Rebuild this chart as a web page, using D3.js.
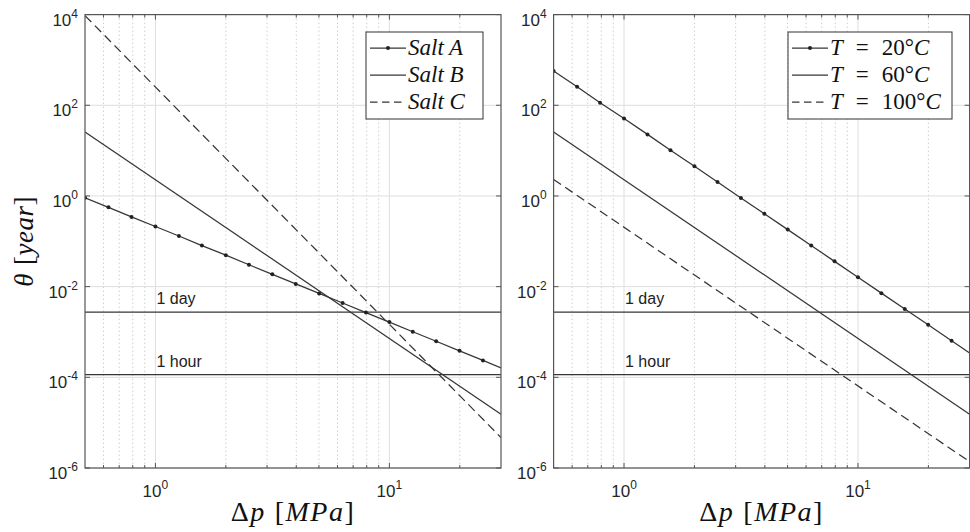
<!DOCTYPE html>
<html>
<head>
<meta charset="utf-8">
<script src="https://cdn.jsdelivr.net/npm/d3@7"></script>
<style>
  html, body { margin: 0; padding: 0; background: #fff; }
  svg { display: block; }
</style>
</head>
<body>
<svg id="chart" width="970" height="532"></svg>
<script>
// Pressure drop Δp [MPa]: tenth-of-a-decade steps from 0.5 MPa, closed at 30 MPa
const pressureSteps = [0.5, 0.63, 0.79, 1.0, 1.26, 1.58, 2.0, 2.51, 3.16, 3.98, 5.01, 6.31, 7.94, 10.0, 12.59, 15.85, 19.95, 25.12, 30];
const pressureEnds = [0.5, 30];

// Time θ [year] for each salt
const saltA = [0.912, 0.561, 0.345, 0.212, 0.131, 0.0804, 0.0494, 0.0304, 0.0187, 0.0115, 0.00708, 0.00436, 0.00268, 0.00165, 0.00101, 0.000624, 0.000384, 0.000236, 0.000161];
const saltB = [25.7, 1.54e-5];
const saltC = [9500, 4.7e-6];

// Time θ [year] for each temperature
const temp20 = [571, 255, 114, 50.9, 22.8, 10.2, 4.54, 2.03, 0.906, 0.405, 0.181, 0.0807, 0.0361, 0.0161, 0.00719, 0.00321, 0.00144, 0.000641, 0.000342];
const temp60 = [25.7, 1.54e-5];
const temp100 = [2.31, 1.38e-6];

// Axis ticks
const xDomain = [0.5, 30];
const yDomain = [1e-6, 1e4];
const xTickExponents = [0, 1];
const xMinorTicks = [0.6, 0.7, 0.8, 0.9, 2, 3, 4, 5, 6, 7, 8, 9, 20];
const yTickExponents = [4, 2, 0, -2, -4, -6];

// Reference durations, in years
const thresholdLabels = ["1 day", "1 hour"];
const thresholdValues = [1 / 365, 1 / 8760];

// Legend entries: pieces of each label, italic (math variable) or upright
const saltLegend = [
  [{ t: "Salt A", it: true }],
  [{ t: "Salt B", it: true }],
  [{ t: "Salt C", it: true }]
];
const tempLegend = [
  [{ t: "T", it: true }, { t: "=", dx: 13 }, { t: "20°", dx: 13 }, { t: "C", it: true }],
  [{ t: "T", it: true }, { t: "=", dx: 13 }, { t: "60°", dx: 13 }, { t: "C", it: true }],
  [{ t: "T", it: true }, { t: "=", dx: 13 }, { t: "100°", dx: 13 }, { t: "C", it: true }]
];

const svg = d3.select("#chart");
const INK = "#363636";
const AXIS = "#555";
const SANS = '"Liberation Sans", Arial, Helvetica, sans-serif';
const SERIF = '"Liberation Serif", "Times New Roman", serif';

const plotTop = 14.6, plotBottom = 468;

const panels = [
  {
    x0: 85, x1: 501, yLabel: true,
    series: [
      { x: pressureSteps, y: saltA, dash: null, dots: true },
      { x: pressureEnds, y: saltB, dash: null, dots: false },
      { x: pressureEnds, y: saltC, dash: "9,5", dots: false }
    ],
    legend: { x: 366, y: 32, w: 117, h: 87, labels: saltLegend }
  },
  {
    x0: 553.6, x1: 969.6, yLabel: false,
    series: [
      { x: pressureSteps, y: temp20, dash: null, dots: true },
      { x: pressureEnds, y: temp60, dash: null, dots: false },
      { x: pressureEnds, y: temp100, dash: "9,5", dots: false }
    ],
    legend: { x: 788, y: 32, w: 164, h: 87, labels: tempLegend }
  }
];

panels.forEach((p, pi) => {
  const x = d3.scaleLog().domain(xDomain).range([p.x0, p.x1]);
  const y = d3.scaleLog().domain(yDomain).range([plotBottom, plotTop]);
  const g = svg.append("g");

  const clipId = "clip" + pi;
  svg.append("clipPath").attr("id", clipId)
    .append("rect").attr("x", p.x0).attr("y", plotTop).attr("width", p.x1 - p.x0).attr("height", plotBottom - plotTop);

  // minor vertical grid (dotted)
  g.selectAll(".xminor").data(xMinorTicks).join("line")
    .attr("x1", d => x(d)).attr("x2", d => x(d))
    .attr("y1", plotTop).attr("y2", plotBottom)
    .attr("stroke", "#cfcfcf").attr("stroke-width", 1).attr("stroke-dasharray", "1.5,2.5");

  // major vertical grid
  g.selectAll(".xmajor").data(xTickExponents).join("line")
    .attr("x1", d => x(Math.pow(10, d))).attr("x2", d => x(Math.pow(10, d)))
    .attr("y1", plotTop).attr("y2", plotBottom)
    .attr("stroke", "#dedede").attr("stroke-width", 1);

  // major horizontal grid
  g.selectAll(".ymajor").data(yTickExponents).join("line")
    .attr("x1", p.x0).attr("x2", p.x1)
    .attr("y1", d => y(Math.pow(10, d))).attr("y2", d => y(Math.pow(10, d)))
    .attr("stroke", "#dedede").attr("stroke-width", 1);

  // reference durations
  thresholdValues.forEach((v, i) => {
    g.append("line")
      .attr("x1", p.x0).attr("x2", p.x1)
      .attr("y1", y(v)).attr("y2", y(v))
      .attr("stroke", INK).attr("stroke-width", 1.2);
    g.append("text")
      .attr("x", x(1) + 1).attr("y", y(v) - 8)
      .attr("font-family", SANS).attr("font-size", 16).attr("fill", "#222")
      .text(thresholdLabels[i]);
  });

  // data lines
  const line = d3.line().x(d => x(d[0])).y(d => y(d[1]));
  const data = g.append("g").attr("clip-path", `url(#${clipId})`);
  p.series.forEach(s => {
    const pts = s.x.map((v, i) => [v, s.y[i]]);
    data.append("path")
      .attr("d", line(pts))
      .attr("fill", "none")
      .attr("stroke", INK).attr("stroke-width", 1.25)
      .attr("stroke-dasharray", s.dash);
    if (s.dots) {
      data.selectAll(null).data(pts.slice(0, -1)).join("circle")
        .attr("cx", d => x(d[0])).attr("cy", d => y(d[1]))
        .attr("r", 2).attr("fill", "#222");
    }
  });

  // axes box
  g.append("rect")
    .attr("x", p.x0).attr("y", plotTop).attr("width", p.x1 - p.x0).attr("height", plotBottom - plotTop)
    .attr("fill", "none").attr("stroke", AXIS).attr("stroke-width", 1.2);

  // ticks, pointing inward on all four sides
  const majorX = xTickExponents.map(e => Math.pow(10, e));
  [[majorX, 5], [xMinorTicks, 3]].forEach(([vals, len]) => {
    vals.forEach(v => {
      g.append("line").attr("x1", x(v)).attr("x2", x(v)).attr("y1", plotBottom).attr("y2", plotBottom - len)
        .attr("stroke", AXIS);
      g.append("line").attr("x1", x(v)).attr("x2", x(v)).attr("y1", plotTop).attr("y2", plotTop + len)
        .attr("stroke", AXIS);
    });
  });
  yTickExponents.forEach(e => {
    const yy = y(Math.pow(10, e));
    g.append("line").attr("x1", p.x0).attr("x2", p.x0 + 5).attr("y1", yy).attr("y2", yy).attr("stroke", AXIS);
    g.append("line").attr("x1", p.x1).attr("x2", p.x1 - 5).attr("y1", yy).attr("y2", yy).attr("stroke", AXIS);
  });

  // tick labels
  xTickExponents.forEach(e => {
    const t = g.append("text")
      .attr("x", x(Math.pow(10, e))).attr("y", plotBottom + 29)
      .attr("text-anchor", "middle")
      .attr("font-family", SANS).attr("font-size", 17).attr("fill", "#262626");
    t.append("tspan").text("10");
    t.append("tspan").attr("dy", -8).attr("font-size", 12).text(String(e));
  });
  yTickExponents.forEach(e => {
    const t = g.append("text")
      .attr("x", p.x0 - 7).attr("y", y(Math.pow(10, e)) + 11)
      .attr("text-anchor", "end")
      .attr("font-family", SANS).attr("font-size", 17).attr("fill", "#262626");
    t.append("tspan").text("10");
    t.append("tspan").attr("dy", -8).attr("font-size", 12).text(String(e));
  });

  // x axis title: Δp [MPa]
  const xt = g.append("text")
    .attr("x", (p.x0 + p.x1) / 2).attr("y", 521)
    .attr("text-anchor", "middle")
    .attr("font-family", SERIF).attr("font-size", 28).attr("fill", "#111")
    .attr("letter-spacing", 1.5);
  xt.append("tspan").text("Δ");
  xt.append("tspan").attr("font-style", "italic").text("p");
  xt.append("tspan").attr("dx", 9).text("[");
  xt.append("tspan").attr("font-style", "italic").text("MPa");
  xt.append("tspan").text("]");

  // y axis title: θ [year]
  if (p.yLabel) {
    const yt = g.append("text")
      .attr("transform", `translate(33,${(plotTop + plotBottom) / 2}) rotate(-90)`)
      .attr("text-anchor", "middle")
      .attr("font-family", SERIF).attr("font-size", 27).attr("fill", "#111")
      .attr("letter-spacing", 0.5);
    yt.append("tspan").attr("font-style", "italic").text("θ");
    yt.append("tspan").attr("dx", 8).text("[");
    yt.append("tspan").attr("font-style", "italic").text("year");
    yt.append("tspan").text("]");
  }

  // legend
  const L = p.legend;
  const lg = g.append("g");
  lg.append("rect").attr("x", L.x).attr("y", L.y).attr("width", L.w).attr("height", L.h)
    .attr("fill", "#fff").attr("stroke", "#333").attr("stroke-width", 1);
  L.labels.forEach((parts, i) => {
    const cy = L.y + 16 + i * 27;
    const s = p.series[i];
    const sx0 = L.x + 4, sx1 = L.x + 40;
    lg.append("line").attr("x1", sx0).attr("x2", sx1).attr("y1", cy).attr("y2", cy)
      .attr("stroke", INK).attr("stroke-width", 1.25)
      .attr("stroke-dasharray", s.dash ? "7.5,4.5" : null);
    if (s.dots) {
      lg.append("circle").attr("cx", (sx0 + sx1) / 2).attr("cy", cy).attr("r", 2).attr("fill", "#222");
    }
    const t = lg.append("text").attr("x", sx1 + 2).attr("y", cy + 7)
      .attr("font-family", SERIF).attr("font-size", 23).attr("fill", "#111");
    parts.forEach(part => {
      const ts = t.append("tspan").text(part.t);
      if (part.it) ts.attr("font-style", "italic");
      if (part.dx) ts.attr("dx", part.dx);
    });
  });
});
</script>
</body>
</html>
